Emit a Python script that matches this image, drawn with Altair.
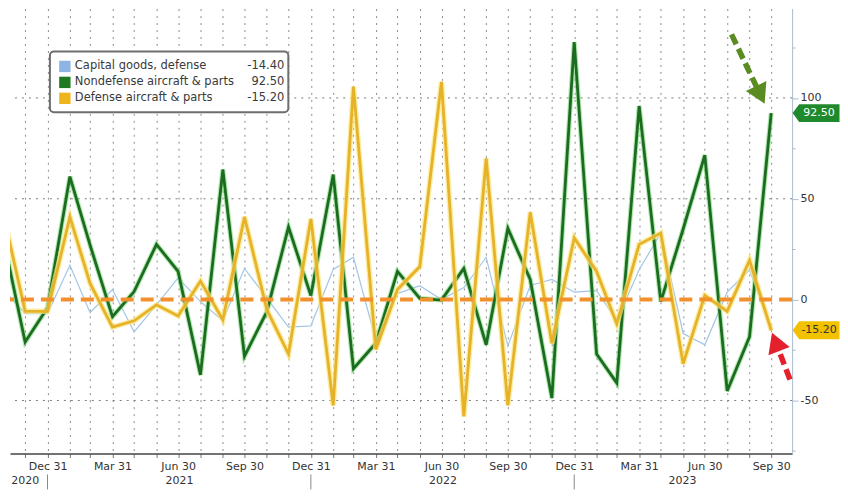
import calendar
import math
import altair as alt
import pandas as pd

FONT = "DejaVu Sans"

# ---------------- data ----------------
series_names = ["Capital goods, defense", "Nondefense aircraft & parts", "Defense aircraft & parts"]
last_values = ["-14.40", "92.50", "-15.20"]
legend_colors = ["#8db4e2", "#1e7a22", "#efb51c"]

# monthly values, Oct 2020 .. Sep 2023 (month-end)
capital_goods = [5, -7, -7, 17, -6.5, 5, -16, -2.6, 10.8, -1, -10.5, 15.5,
                 0.7, -13.6, -13, 15, 21, -20, 3, 6.9, 0, 6, 21, -23,
                 7, 10, 3.7, 4.5, -10.5, 14.8, 33, -16.8, -22.4, 3.7, 14.8, -14.4]
nondefense = [30, -21, -4, 61, 27, -8.5, 4, 27.4, 14, -37.3, 64.5, -28,
              -6, 36, 2, 62, -34.2, -21.6, 14, 0.6, -0.2, 15.5, -22.4, 35.3,
              10, -48.8, 127.7, -27, -41.3, 96, -1, 35, 71.6, -45.3, -18.4, 92.5]
defense = [42, -5.8, -5.8, 41, 8, -13.6, -10.5, -2.6, -8.1, 9.2, -10, 41,
           -5, -27, 40, -52.4, 105.6, -24.7, 5, 16.4, 108, -57.9, 70, -52.4,
           43.3, -21.6, 30.6, 14, -12, 27.4, 33, -31.8, 2.1, -5.8, 19.5, -15.2]

grid_values = [-50, 50, 100]
year_labels = ["2020", "2021", "2022", "2023"]
year_label_dates = ["2020-11-30", "2021-07-02", "2022-07-02", "2023-05-30"]
year_sep_dates = ["2020-12-31", "2021-12-31", "2022-12-31"]

# annotation arrows (tail date, tail value, head date, head value, color)
arrow_tail_dates = ["2023-08-06", "2023-10-26"]
arrow_tail_vals = [131.5, -39.6]
arrow_head_dates = ["2023-09-15", "2023-10-06"]
arrow_head_vals = [101.5, -21.0]
arrow_colors = ["#5a8c22", "#e3202c"]

# ---------------- helpers ----------------
dates = []
yy, mm = 2020, 10
for _ in range(36):
    dd = calendar.monthrange(yy, mm)[1]
    dates.append(f"{yy:04d}-{mm:02d}-{dd:02d}")
    mm += 1
    if mm > 12:
        mm = 1
        yy += 1


def ms(s):
    return int(pd.Timestamp(s).timestamp() * 1000)


W, H = 784, 446
X_DOMAIN = [ms("2020-11-09"), ms("2023-10-29")]
Y_DOMAIN = [-76.3, 144.3]

x_axis = alt.Axis(
    values=[ms(d) for d in dates[1:]],
    labelExpr="indexof([2,5,8,11], utcmonth(datum.value)) >= 0 ? utcFormat(datum.value, '%b %d') : ''",
    grid=True, gridDash=[2, 5], gridColor="#8c8c8c", gridWidth=1,
    domainColor="#444444", domainWidth=1.5, tickColor="#777777", tickSize=4,
    labelFont=FONT, labelFontSize=11, labelColor="#333333", labelOverlap=False,
    labelFlush=False, labelPadding=3, title=None,
)
y_axis = alt.Axis(
    orient="right", values=[-75, -50, -25, 0, 25, 50, 75, 100, 125],
    labelExpr="datum.value % 50 == 0 ? toString(datum.value) : ''",
    grid=False, domainColor="#a9bccf", tickColor="#a9bccf",
    tickSize={"condition": {"test": "datum.value % 50 == 0", "value": 6}, "value": 3},
    labelFont=FONT, labelFontSize=11, labelColor="#333333", labelPadding=2,
    labelOverlap=False, title=None,
)
xs = alt.Scale(type="utc", domain=X_DOMAIN)
ys = alt.Scale(domain=Y_DOMAIN, nice=False, zero=False)
X = alt.X("date:T", scale=xs, axis=x_axis)
Y = alt.Y("value:Q", scale=ys, axis=y_axis)

# ---------------- layers ----------------
grid_df = pd.DataFrame({"value": grid_values})
hgrid = alt.Chart(grid_df).mark_rule(color="#7a7a7a", strokeDash=[2, 5], strokeWidth=1).encode(y=Y)


def line(values, color, width, halo=None, halo_width=None, halo_op=0.6):
    df = pd.DataFrame({"date": dates, "value": values})
    out = []
    if halo:
        out.append(alt.Chart(df).mark_line(color=halo, strokeWidth=halo_width, opacity=halo_op,
                                           clip=True, strokeJoin="miter").encode(x=X, y=Y))
    out.append(alt.Chart(df).mark_line(color=color, strokeWidth=width, clip=True,
                                       strokeJoin="miter").encode(x=X, y=Y))
    return out


blue_l = line(capital_goods, "#a3c6e8", 1.2)
green_l = line(nondefense, "#1b6b20", 2.8, "#6fd36a", 5, 0.55)
yellow_l = line(defense, "#e6b22a", 2.8, "#fbe67a", 5.5, 0.7)

zero_df = pd.DataFrame({"value": [0]})
zero = alt.Chart(zero_df).mark_rule(color="#f2902c", strokeDash=[13, 7], strokeWidth=4).encode(y=Y)

# year row under x axis
yr_df = pd.DataFrame({"date": year_label_dates, "label": year_labels})
years = alt.Chart(yr_df).mark_text(font=FONT, fontSize=11, color="#333333", baseline="middle").encode(
    x=X, y=alt.value(H + 28), text="label:N")
sep_df = pd.DataFrame({"date": year_sep_dates})
seps = alt.Chart(sep_df).mark_rule(color="#8a8a8a", strokeWidth=1).encode(
    x=X, y=alt.value(H + 21), y2=alt.value(H + 36))

# right-hand value tags
tag_df = pd.DataFrame({"value": [nondefense[-1], defense[-1]], "txt": [last_values[1], last_values[2]],
                       "fill": ["#1f8a2c", "#f2c100"], "tc": ["#ffffff", "#333333"]})
tag_shape = "M -1 0 L -0.72 -0.38 L 1 -0.38 L 1 0.38 L -0.72 0.38 Z"
tags = alt.Chart(tag_df).mark_point(shape=tag_shape, filled=True, opacity=1, size=47 * 47).encode(
    x=alt.value(W + 24), y=Y, color=alt.Color("fill:N", scale=None))
tag_txt = alt.Chart(tag_df).mark_text(font=FONT, fontSize=11, baseline="middle", align="center").encode(
    x=alt.value(W + 27), y=Y, text="txt:N", color=alt.Color("tc:N", scale=None))

# arrows
arrow_layers = []
px_per_day = W / ((X_DOMAIN[1] - X_DOMAIN[0]) / 86400000)
px_per_val = H / (Y_DOMAIN[1] - Y_DOMAIN[0])
for td, tv, hd, hv, col in zip(arrow_tail_dates, arrow_tail_vals, arrow_head_dates, arrow_head_vals, arrow_colors):
    adf = pd.DataFrame({"date": [td], "value": [tv], "date2": [hd], "value2": [hv]})
    ddx = (pd.Timestamp(hd) - pd.Timestamp(td)).days * px_per_day
    ddy = -(hv - tv) * px_per_val
    ang = math.degrees(math.atan2(ddx, -ddy)) % 360
    arrow_layers.append(alt.Chart(adf).mark_rule(color=col, strokeWidth=5.5, strokeDash=[11, 5]).encode(
        x=X, y=Y, x2="date2:T", y2="value2:Q"))
    hdf = pd.DataFrame({"date": [hd], "value": [hv]})
    arrow_layers.append(alt.Chart(hdf).mark_point(shape="triangle-up", filled=True, color=col, opacity=1,
                                                  size=520, angle=ang).encode(x=X, y=Y))

# legend box
one = pd.DataFrame({"a": [0]})
leg_box = alt.Chart(one).mark_rect(fill="white", stroke="#6e6e6e", strokeWidth=2, cornerRadius=4).encode(
    x=alt.value(40), x2=alt.value(279), y=alt.value(43), y2=alt.value(104))
leg_layers = [leg_box]
for i, (nm, lv, colr) in enumerate(zip(series_names, last_values, legend_colors)):
    ypx = 58 + 16 * i
    leg_layers.append(alt.Chart(one).mark_square(size=130, color=colr, opacity=1).encode(
        x=alt.value(55), y=alt.value(ypx)))
    leg_layers.append(alt.Chart(one).mark_text(text=nm, font=FONT, fontSize=11.5, color="#3a3a3a",
                                               align="left", baseline="middle").encode(
        x=alt.value(65), y=alt.value(ypx)))
    leg_layers.append(alt.Chart(one).mark_text(text=lv, font=FONT, fontSize=11.5, color="#3a3a3a",
                                               align="right", baseline="middle").encode(
        x=alt.value(275), y=alt.value(ypx)))

chart = alt.layer(
    hgrid, *blue_l, *green_l, *yellow_l, zero, years, seps, tags, tag_txt, *arrow_layers, *leg_layers
).properties(
    width=W, height=H, padding={"left": 0, "top": 0, "right": 0, "bottom": 0}, background="white"
).configure_view(strokeWidth=0)

chart.save("out.html", embed_options={"renderer": "svg", "actions": False})
